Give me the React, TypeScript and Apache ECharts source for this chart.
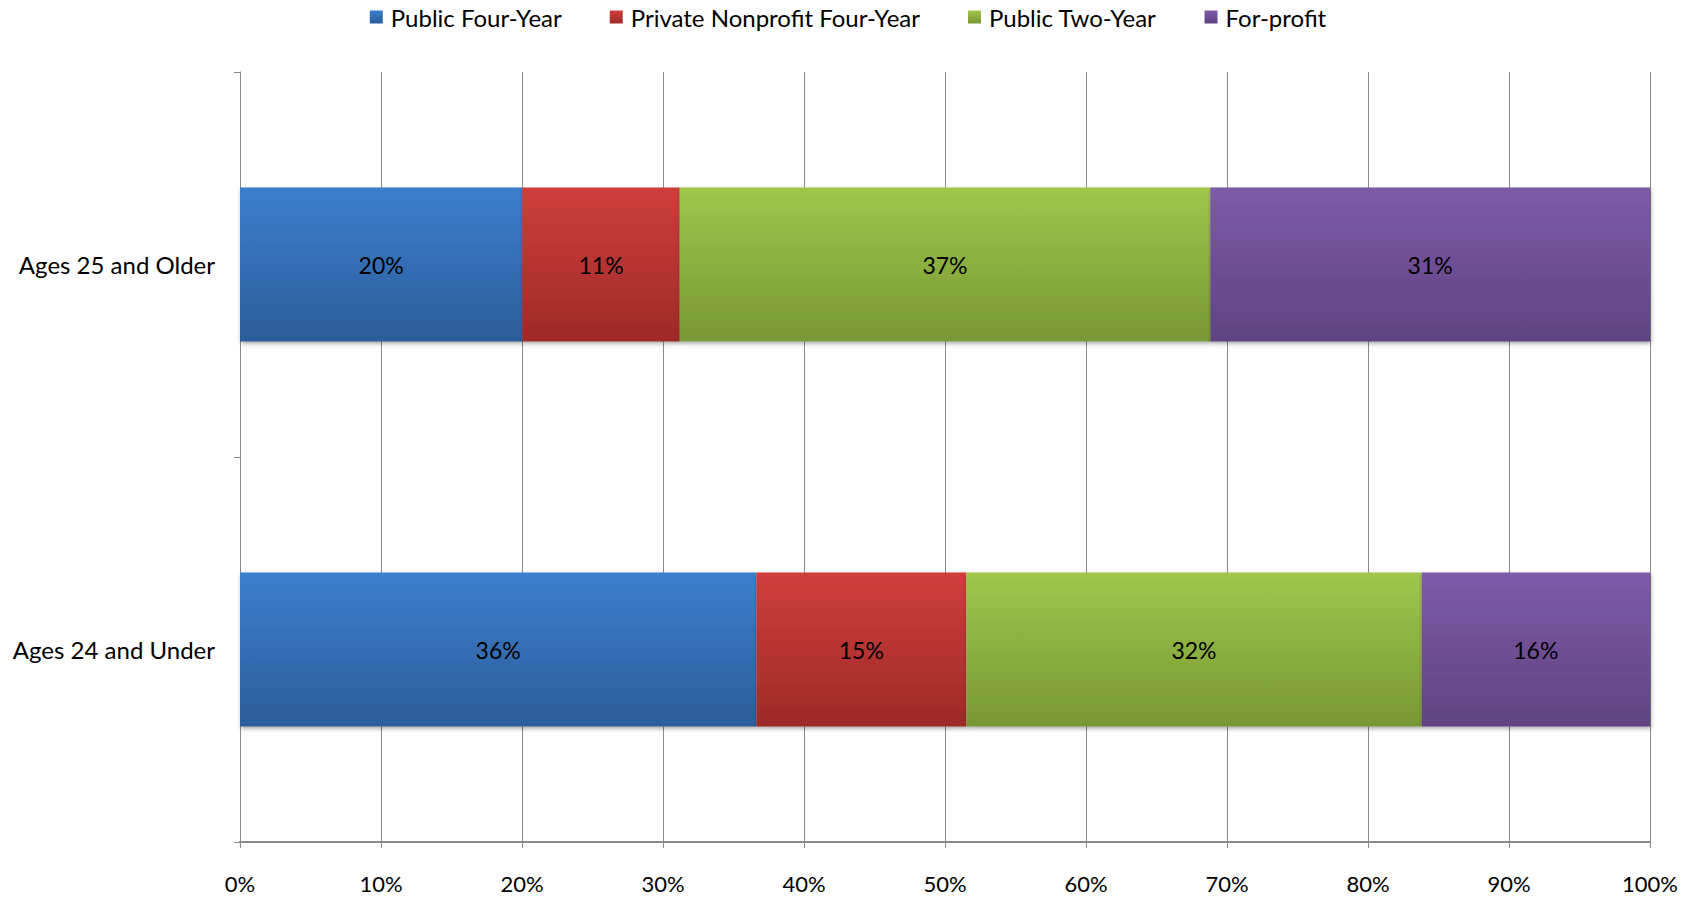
import React, { useEffect, useRef } from "react";
import * as echarts from "echarts";

const categories = ["Ages 24 and Under", "Ages 25 and Older"];
const seriesNames = ["Public Four-Year", "Private Nonprofit Four-Year", "Public Two-Year", "For-profit"];
// shares per category (order matches categories)
const publicFour = [36.4, 19.9];
const privateNonprofit = [14.8, 11.1];
const publicTwo = [32.1, 37.4];
const forProfit = [16.1, 31.0];
const xTicks = [0, 10, 20, 30, 40, 50, 60, 70, 80, 90, 100];

const colorsTop = ["#3C7ECE", "#CF3E3B", "#A0C64B", "#7D5AA8"];
const colorsBottom = ["#2C5D9A", "#9D2A28", "#779834", "#5F4381"];

export default function App() {
  const ref = useRef<HTMLDivElement>(null);
  useEffect(() => {
    if (!ref.current) return;
    const chart = echarts.init(ref.current, null, { renderer: "svg" });
    const raw = [publicFour, privateNonprofit, publicTwo, forProfit];
    const totals = categories.map((_, i) => raw.reduce((s, arr) => s + arr[i], 0));
    const font = "Lato, 'Open Sans', sans-serif";
    const series = raw.map((arr, si) => ({
      name: seriesNames[si],
      type: "bar",
      stack: "total",
      barWidth: "40%",
      data: arr.map((v, i) => ({ value: (v / totals[i]) * 100, raw: v })),
      itemStyle: {
        color: new echarts.graphic.LinearGradient(0, 0, 0, 1, [
          { offset: 0, color: colorsTop[si] },
          { offset: 1, color: colorsBottom[si] },
        ]),
        shadowColor: "rgba(0,0,0,0.35)",
        shadowBlur: 4,
        shadowOffsetX: 1,
        shadowOffsetY: 2,
      },
      label: {
        show: true,
        position: "inside",
        color: "#000",
        fontFamily: font,
        fontSize: 23,
        formatter: (p: any) => Math.round(p.data.raw) + "%",
      },
    }));
    chart.setOption({
      animation: false,
      backgroundColor: "#fff",
      textStyle: { fontFamily: font },
      legend: {
        top: 0,
        left: "center",
        itemWidth: 13,
        itemHeight: 13,
        itemGap: 48,
        icon: "rect",
        textStyle: { fontSize: 24, color: "#000", fontFamily: font, padding: [0, 0, 0, 3] },
        data: seriesNames,
      },
      grid: { left: 240, right: 46, top: 72, bottom: 57 },
      xAxis: {
        type: "value",
        min: 0,
        max: 100,
        interval: 10,
        axisLabel: {
          formatter: (v: number) => (xTicks.includes(v) ? v + "%" : ""),
          fontSize: 22,
          color: "#000",
          margin: 30,
          fontFamily: font,
        },
        axisLine: { show: true, lineStyle: { color: "#8a8a8a", width: 2 } },
        axisTick: { show: true, length: 6, lineStyle: { color: "#8a8a8a" } },
        splitLine: { show: true, lineStyle: { color: "#8a8a8a", width: 1 } },
      },
      yAxis: {
        type: "category",
        data: categories,
        axisLabel: { fontSize: 24, color: "#000", margin: 25, fontFamily: font },
        axisLine: { show: true, lineStyle: { color: "#8a8a8a", width: 1 } },
        axisTick: { show: true, length: 6, lineStyle: { color: "#8a8a8a" } },
      },
      series,
    });
    return () => chart.dispose();
  }, []);
  return <div ref={ref} style={{ position: "fixed", left: 0, top: 0, width: 1696, height: 899 }} />;
}
